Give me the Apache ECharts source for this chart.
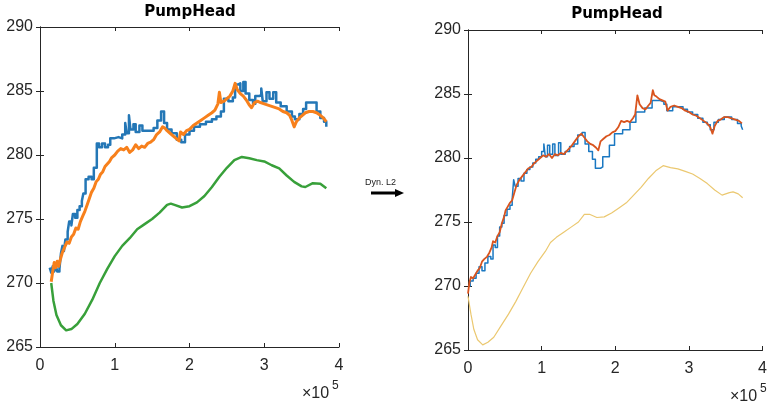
<!DOCTYPE html>
<html>
<head>
<meta charset="utf-8">
<script src="https://cdn.jsdelivr.net/npm/echarts@6/dist/echarts.min.js"></script>
<style>
  html, body { margin: 0; padding: 0; background: #fff; }
  #chart { width: 770px; height: 407px; }
</style>
</head>
<body>
<div id="chart"></div>
<script>
// Sample index is plotted in units of 1e5 (axis exponent shown as ×10^5).
const xTicks = [0, 1, 2, 3, 4];
const yTicks = [265, 270, 275, 280, 285, 290];
const chartTitle = 'PumpHead';
const arrowLabel = 'Dyn. L2';

// Left panel: measured (stepped), estimate, and drift-free model.
const leftMeasured = [
  [0.13,271.2],[0.15,270.8],[0.17,271.3],[0.19,270.9],[0.21,271.4],[0.23,270.9],[0.26,271.1],
  [0.28,272.3],[0.30,272.9],[0.32,272.5],[0.34,273.4],[0.37,274.0],[0.39,274.8],[0.42,274.5],
  [0.44,275.4],[0.47,275.1],[0.50,275.7],[0.53,276.0],[0.56,276.4],[0.58,277.0],[0.61,278.1],
  [0.65,278.3],[0.69,278.1],[0.72,279.0],[0.76,280.9],[0.79,280.6],[0.83,280.9],[0.87,280.6],
  [0.91,280.8],[0.94,281.3],[0.99,281.4],[1.05,281.3],[1.10,281.6],[1.14,282.5],[1.16,281.7],
  [1.19,283.1],[1.21,282.0],[1.25,282.4],[1.28,281.8],[1.33,282.3],[1.37,281.9],[1.45,281.9],
  [1.52,282.1],[1.57,282.7],[1.62,283.4],[1.66,282.5],[1.70,282.0],[1.76,281.7],[1.83,281.2],
  [1.89,281.0],[1.94,281.6],[2.00,281.9],[2.06,282.2],[2.14,282.4],[2.22,282.6],[2.30,282.8],
  [2.36,283.0],[2.42,283.4],[2.46,284.4],[2.52,284.2],[2.58,284.5],[2.61,285.5],[2.65,285.6],
  [2.68,285.0],[2.72,285.7],[2.75,284.8],[2.80,284.3],[2.85,284.0],[2.88,284.6],[2.93,284.7],
  [2.96,285.2],[2.98,284.2],[3.03,284.9],[3.07,284.4],[3.12,284.9],[3.16,284.1],[3.22,283.8],
  [3.30,283.4],[3.37,283.0],[3.41,282.8],[3.47,283.2],[3.52,283.6],[3.56,284.1],[3.70,283.4],
  [3.75,282.9],[3.80,282.6],[3.83,282.2]
];
const leftEstimate = [
  [0.15,270.1],[0.17,270.9],[0.19,271.6],[0.21,271.2],[0.23,271.7],[0.25,271.3],[0.27,271.8],
  [0.30,272.4],[0.33,272.8],[0.36,273.2],[0.39,273.1],[0.42,273.6],[0.45,273.8],[0.48,274.3],
  [0.51,274.2],[0.54,274.8],[0.57,275.2],[0.60,275.6],[0.63,276.1],[0.66,276.6],[0.69,277.1],
  [0.72,277.4],[0.75,277.9],[0.78,278.1],[0.81,278.5],[0.84,278.7],[0.87,279.1],[0.90,279.3],
  [0.93,279.5],[0.96,279.8],[1.00,280.0],[1.04,280.3],[1.08,280.5],[1.12,280.4],[1.16,280.6],
  [1.20,280.2],[1.24,280.4],[1.28,280.8],[1.32,280.5],[1.36,280.7],[1.40,280.6],[1.44,280.9],
  [1.48,281.0],[1.52,281.2],[1.56,281.6],[1.60,281.8],[1.64,282.2],[1.67,282.1],[1.70,281.9],
  [1.74,281.7],[1.78,281.5],[1.82,281.3],[1.86,281.1],[1.88,281.8],[1.92,281.6],[1.96,281.9],
  [2.00,282.0],[2.05,282.3],[2.10,282.5],[2.15,282.7],[2.20,282.9],[2.25,283.1],[2.30,283.3],
  [2.34,283.5],[2.38,284.0],[2.40,284.9],[2.42,284.1],[2.46,284.2],[2.50,284.4],[2.54,284.6],
  [2.58,285.0],[2.61,285.6],[2.64,285.1],[2.68,284.8],[2.72,284.6],[2.76,284.3],[2.80,283.9],
  [2.83,283.7],[2.87,284.1],[2.91,284.2],[2.95,284.1],[3.00,284.0],[3.05,283.9],[3.10,283.8],
  [3.15,283.7],[3.20,283.6],[3.25,283.4],[3.30,283.3],[3.34,283.1],[3.37,282.7],[3.40,282.2],
  [3.43,282.6],[3.47,282.9],[3.51,283.1],[3.55,283.3],[3.60,283.4],[3.65,283.4],[3.70,283.3],
  [3.75,283.1],[3.79,282.9],[3.83,282.6]
];
const leftModel = [
  [0.15,270.0],[0.18,268.6],[0.22,267.5],[0.28,266.7],[0.35,266.3],[0.42,266.4],[0.50,266.8],
  [0.60,267.6],[0.70,268.7],[0.80,270.0],[0.90,271.1],[1.00,272.1],[1.10,272.9],[1.20,273.5],
  [1.30,274.2],[1.40,274.6],[1.50,275.0],[1.60,275.5],[1.70,276.1],[1.75,276.2],[1.80,276.1],
  [1.90,275.9],[2.00,276.0],[2.10,276.3],[2.20,276.8],[2.30,277.5],[2.40,278.3],[2.50,279.0],
  [2.60,279.6],[2.70,279.85],[2.80,279.75],[2.90,279.6],[3.00,279.5],[3.10,279.2],[3.20,278.95],
  [3.30,278.4],[3.40,277.9],[3.50,277.55],[3.55,277.5],[3.65,277.8],[3.75,277.75],[3.83,277.4]
];

// Right panel: measured (stepped), dynamic-L2 estimate, and model.
const rightMeasured = [
  [0.00,270.0],[0.03,270.4],[0.07,270.6],[0.11,271.0],[0.15,271.5],[0.19,271.2],[0.23,271.8],
  [0.27,272.3],[0.31,272.1],[0.34,273.2],[0.37,273.0],[0.40,273.9],[0.43,274.6],[0.46,274.9],
  [0.49,275.5],[0.53,276.0],[0.57,276.3],[0.60,276.8],[0.62,278.3],[0.64,277.8],[0.68,278.4],
  [0.72,278.2],[0.76,278.8],[0.80,279.1],[0.84,279.3],[0.88,279.6],[0.92,279.9],[0.96,280.1],
  [1.00,280.5],[1.03,281.1],[1.05,280.1],[1.08,281.0],[1.11,280.3],[1.15,281.1],[1.18,280.2],
  [1.23,281.2],[1.26,280.3],[1.32,280.5],[1.38,280.9],[1.44,281.1],[1.49,281.8],[1.55,282.0],
  [1.59,281.1],[1.64,280.5],[1.69,279.9],[1.73,279.2],[1.80,279.3],[1.83,280.1],[1.92,281.0],
  [1.99,281.9],[2.10,282.2],[2.20,282.8],[2.28,283.6],[2.40,283.9],[2.50,284.5],[2.60,284.4],
  [2.66,284.2],[2.70,283.7],[2.78,284.0],[2.84,284.0],[2.92,283.8],[2.98,283.6],[3.05,283.4],
  [3.12,283.1],[3.19,282.8],[3.25,282.6],[3.29,282.2],[3.34,282.8],[3.40,283.0],[3.48,283.2],
  [3.58,283.0],[3.66,282.7],[3.71,282.5],[3.73,282.2]
];
const rightEstimate = [
  [0.00,269.4],[0.02,270.3],[0.04,270.7],[0.07,270.6],[0.10,270.9],[0.13,271.2],[0.16,271.4],
  [0.19,271.9],[0.22,272.1],[0.26,272.3],[0.29,272.6],[0.32,273.0],[0.34,273.5],[0.37,273.4],
  [0.40,273.9],[0.43,274.2],[0.46,274.9],[0.49,275.4],[0.51,275.9],[0.54,276.2],[0.57,276.5],
  [0.60,276.7],[0.63,277.3],[0.66,277.9],[0.70,278.3],[0.74,278.6],[0.78,278.9],[0.82,279.2],
  [0.86,279.3],[0.90,279.6],[0.94,279.8],[0.98,280.0],[1.02,280.2],[1.06,280.1],[1.10,280.3],
  [1.14,280.0],[1.18,280.3],[1.22,280.2],[1.26,280.4],[1.30,280.3],[1.35,280.6],[1.40,280.9],
  [1.45,281.3],[1.50,281.7],[1.54,281.9],[1.58,281.6],[1.62,281.3],[1.66,281.1],[1.70,281.0],
  [1.74,280.8],[1.77,280.6],[1.80,281.3],[1.84,281.5],[1.88,281.7],[1.92,281.8],[1.96,282.0],
  [2.00,282.1],[2.04,282.4],[2.08,282.9],[2.12,282.8],[2.16,282.9],[2.20,282.8],[2.24,283.1],
  [2.27,283.4],[2.30,284.9],[2.33,284.2],[2.37,283.9],[2.41,283.8],[2.45,284.1],[2.48,284.3],
  [2.51,285.3],[2.53,284.9],[2.56,284.8],[2.60,284.6],[2.64,284.5],[2.68,284.4],[2.71,283.7],
  [2.75,284.0],[2.80,284.1],[2.85,284.0],[2.90,283.9],[2.95,283.7],[3.00,283.6],[3.05,283.4],
  [3.10,283.3],[3.15,283.1],[3.20,282.9],[3.25,282.7],[3.29,282.4],[3.32,281.9],[3.35,282.5],
  [3.39,282.9],[3.43,283.0],[3.48,283.2],[3.53,283.2],[3.58,283.1],[3.63,283.0],[3.68,282.9],
  [3.72,282.7]
];
const rightModel = [
  [0.00,269.2],[0.04,267.8],[0.08,266.6],[0.13,265.8],[0.20,265.4],[0.27,265.6],[0.35,266.0],
  [0.45,266.9],[0.55,267.8],[0.65,268.8],[0.75,269.9],[0.85,271.0],[0.95,271.9],[1.05,272.7],
  [1.12,273.4],[1.20,273.8],[1.30,274.2],[1.40,274.6],[1.50,275.0],[1.58,275.6],[1.65,275.6],
  [1.75,275.35],[1.85,275.4],[1.95,275.7],[2.05,276.1],[2.15,276.5],[2.25,277.1],[2.35,277.7],
  [2.45,278.4],[2.55,279.0],[2.65,279.4],[2.75,279.25],[2.85,279.15],[2.95,278.95],[3.05,278.75],
  [3.15,278.4],[3.25,278.0],[3.35,277.5],[3.45,277.1],[3.55,277.3],[3.60,277.35],[3.67,277.2],
  [3.73,276.9]
];

const AX = '#262626';
const FONT = '"Liberation Sans", Arial, sans-serif';

function xPair(grid) {
  const base = {
    gridIndex: grid, type: 'value', min: xTicks[0], max: xTicks[xTicks.length - 1], interval: 1,
    splitLine: { show: false },
    axisLine: { show: true, lineStyle: { color: AX, width: 1 } },
    axisTick: { show: true, inside: true, length: 4, lineStyle: { color: AX } }
  };
  return [
    Object.assign({}, base, {
      position: 'bottom',
      axisLabel: { show: true, color: AX, fontSize: 16, fontFamily: FONT, margin: 11, formatter: v => String(v) }
    }),
    Object.assign({}, base, { position: 'top', axisLabel: { show: false } })
  ];
}
function yPair(grid) {
  const base = {
    gridIndex: grid, type: 'value', min: yTicks[0], max: yTicks[yTicks.length - 1], interval: 5,
    splitLine: { show: false },
    axisLine: { show: true, lineStyle: { color: AX, width: 1 } },
    axisTick: { show: true, inside: true, length: 4, lineStyle: { color: AX } }
  };
  return [
    Object.assign({}, base, {
      position: 'left',
      axisLabel: { show: true, color: AX, fontSize: 16, fontFamily: FONT, margin: 7, formatter: v => String(v) }
    }),
    Object.assign({}, base, { position: 'right', axisLabel: { show: false } })
  ];
}

function line(xi, yi, data, color, width, step) {
  return {
    type: 'line', xAxisIndex: xi, yAxisIndex: yi, data: data, step: step || false,
    showSymbol: false, symbol: 'none', animation: false, silent: true,
    lineStyle: { color: color, width: width, join: 'round' }
  };
}

const chart = echarts.init(document.getElementById('chart'), null, { renderer: 'canvas' });
chart.setOption({
  animation: false,
  backgroundColor: '#ffffff',
  title: [
    { text: chartTitle, left: 190, top: 5, textAlign: 'center', padding: 0,
      textStyle: { fontSize: 15, fontWeight: 'bold', color: '#000', fontFamily: '"DejaVu Sans", sans-serif' } },
    { text: chartTitle, left: 617, top: 7, textAlign: 'center', padding: 0,
      textStyle: { fontSize: 15, fontWeight: 'bold', color: '#000', fontFamily: '"DejaVu Sans", sans-serif' } }
  ],
  grid: [
    { left: 40, top: 27, width: 299, height: 320 },
    { left: 468, top: 30, width: 299, height: 320 }
  ],
  xAxis: xPair(0).concat(xPair(1)),
  yAxis: yPair(0).concat(yPair(1)),
  series: [
    line(0, 0, leftModel, '#38a03a', 2.5),
    line(0, 0, leftMeasured, '#2477b6', 2.5, 'end'),
    line(0, 0, leftEstimate, '#f7801c', 3),
    line(2, 2, rightModel, '#ebc870', 1.2),
    line(2, 2, rightMeasured, '#1a78c2', 1.5, 'end'),
    line(2, 2, rightEstimate, '#d9541e', 1.8)
  ],
  graphic: [
    { type: 'text', left: 302, top: 386, style: { text: '×10', fontSize: 16, fill: AX, fontFamily: FONT } },
    { type: 'text', left: 332, top: 380, style: { text: '5', fontSize: 12, fill: AX, fontFamily: FONT } },
    { type: 'text', left: 730, top: 389, style: { text: '×10', fontSize: 16, fill: AX, fontFamily: FONT } },
    { type: 'text', left: 760, top: 383, style: { text: '5', fontSize: 12, fill: AX, fontFamily: FONT } },
    { type: 'text', left: 365, top: 178, style: { text: arrowLabel, fontSize: 9, fill: '#222', fontFamily: FONT } },
    { type: 'line', shape: { x1: 371, y1: 193, x2: 397, y2: 193 }, style: { stroke: '#000', lineWidth: 3 } },
    { type: 'polygon', shape: { points: [[395, 189], [404, 193], [395, 197]] }, style: { fill: '#000' } }
  ]
});
</script>
</body>
</html>
